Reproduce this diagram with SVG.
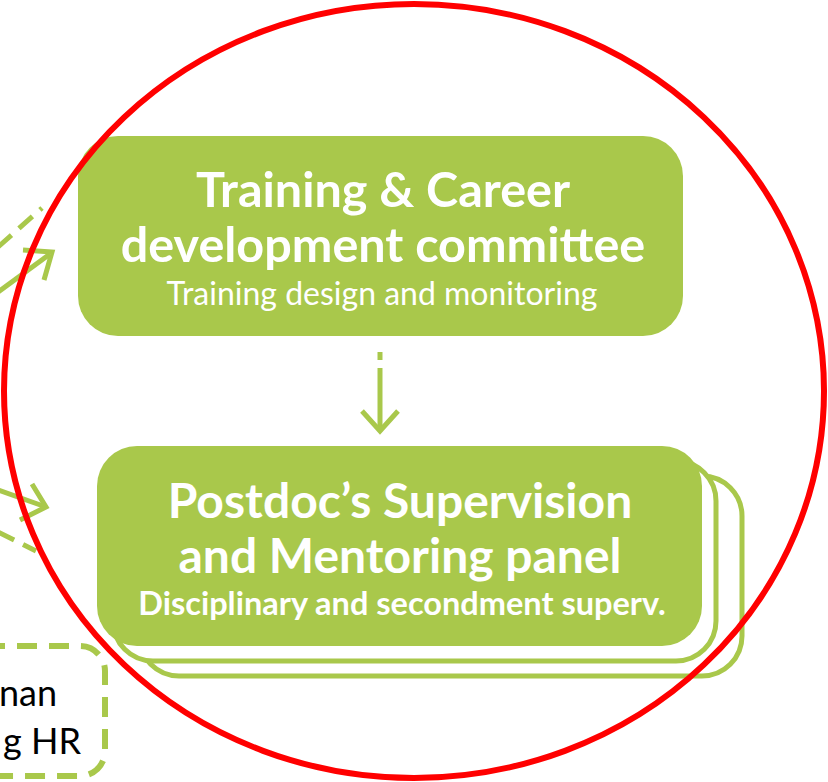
<svg xmlns="http://www.w3.org/2000/svg" width="828" height="782" viewBox="0 0 828 782">
<style>
.box{fill:#A9C84B}
.back{fill:#fff;stroke:#A9C84B;stroke-width:5}
.t{font-family:Lato,"Open Sans","Liberation Sans",sans-serif;fill:#fff;text-anchor:middle}
.b{font-weight:bold}
.conn{stroke:#A9C84B;stroke-width:5;fill:none}
.dash{stroke-dasharray:18 10}
.lt{font-family:Lato,"Open Sans","Liberation Sans",sans-serif;fill:#000;font-size:36px;text-anchor:end}
</style>
<rect width="828" height="782" fill="#fff"/>
<g id="connectors">
  <line class="conn dash" x1="-2" y1="247" x2="42" y2="208"/>
  <line class="conn" x1="-2" y1="292" x2="50" y2="254"/>
  <polyline class="conn" points="23,250 52,252 44,280"/>
  <line class="conn" x1="-2" y1="490" x2="46" y2="507"/>
  <polyline class="conn" points="32,484 46,507 20,520"/>
  <line class="conn dash" x1="-2" y1="532" x2="36" y2="551"/>
  <line class="conn" x1="380" y1="352" x2="380" y2="360"/>
  <line class="conn" x1="380" y1="368" x2="380" y2="431"/>
  <polyline class="conn" points="362,411 380,431 398,411"/>
</g>
<g id="node-hr">
  <rect x="-40" y="646" width="145" height="130" rx="25" fill="none" stroke="#A9C84B" stroke-width="6" stroke-dasharray="20 12"/>
  <text class="lt" x="57" y="706">nan</text>
  <text class="lt" x="81" y="754">g HR</text>
</g>
<g id="node-training">
  <rect class="box" x="78" y="136" width="605" height="200" rx="40"/>
  <text class="t b" x="383" y="207" font-size="48.5">Training &amp; Career</text>
  <text class="t b" x="383" y="262" font-size="48.5">development committee</text>
  <text class="t" x="382" y="305" font-size="32">Training design and monitoring</text>
</g>
<g id="node-postdoc">
  <rect class="back" x="139" y="476" width="603" height="200" rx="40"/>
  <rect class="back" x="113" y="461" width="603" height="200" rx="40"/>
  <rect class="box" x="97" y="446" width="605" height="200" rx="40"/>
  <text class="t b" x="400" y="518" font-size="48">Postdoc’s Supervision</text>
  <text class="t b" x="400" y="573" font-size="48">and Mentoring panel</text>
  <text class="t b" x="402" y="615" font-size="32.5">Disciplinary and secondment superv.</text>
</g>
<ellipse cx="414" cy="391" rx="410" ry="387" fill="none" stroke="#FF0000" stroke-width="6"/>
</svg>
